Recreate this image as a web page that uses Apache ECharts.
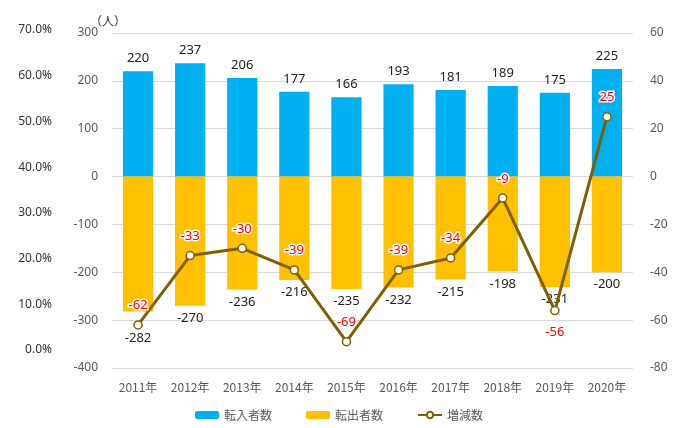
<!DOCTYPE html>
<html>
<head>
<meta charset="utf-8">
<script src="https://cdn.jsdelivr.net/npm/echarts@6/dist/echarts.min.js"></script>
<style>
html, body { margin: 0; padding: 0; background: #fff; }
#chart { width: 700px; height: 428px; }
</style>
</head>
<body>
<div id="chart"></div>
<script>
// data
const years = ["2011年", "2012年", "2013年", "2014年", "2015年", "2016年", "2017年", "2018年", "2019年", "2020年"];
const inflow = [220, 237, 206, 177, 166, 193, 181, 189, 175, 225];
const outflow = [-282, -270, -236, -216, -235, -232, -215, -198, -231, -200];
const change = [-62, -33, -30, -39, -69, -39, -34, -9, -56, 25];

const fontJP = '"Noto Sans CJK JP", "Noto Sans", sans-serif';
const fontNum = '"Noto Sans", "Liberation Sans", sans-serif';

const myChart = echarts.init(document.getElementById("chart"));

const option = {
  animation: false,
  textStyle: { fontFamily: fontJP },
  legend: {
    bottom: 2,
    left: 190,
    itemWidth: 24,
    itemHeight: 8,
    itemGap: 34,
    textStyle: { fontFamily: fontJP, fontSize: 12, color: "#595959" },
    data: ["転入者数", "転出者数", "増減数"],
  },
  grid: [
    { left: 112, right: 67, top: 33, bottom: 60 },
    // the stray percent axis at the far left
    { left: 56, width: 10, top: 30, bottom: 78 },
  ],
  xAxis: [
    {
      type: "category",
      gridIndex: 0,
      data: years,
      axisLine: { show: false },
      axisTick: { show: false },
      axisLabel: { color: "#595959", fontSize: 12, margin: 13, fontFamily: fontJP },
    },
    { type: "category", gridIndex: 1, show: false, data: [""] },
  ],
  yAxis: [
    {
      type: "value",
      gridIndex: 0,
      min: -400,
      max: 300,
      interval: 100,
      name: "（人）",
      nameGap: 4,
      nameTextStyle: { color: "#333", fontSize: 12, align: "right", padding: [0, -14, 0, 0] },
      axisLine: { show: false },
      axisTick: { show: false },
      splitLine: { lineStyle: { color: "#d9d9d9", width: 1 } },
      axisLabel: { color: "#595959", fontSize: 12, margin: 14, fontFamily: fontNum },
    },
    {
      type: "value",
      gridIndex: 0,
      position: "right",
      min: -80,
      max: 60,
      interval: 20,
      axisLine: { show: false },
      axisTick: { show: false },
      splitLine: { show: false },
      axisLabel: { color: "#595959", fontSize: 12, margin: 17, fontFamily: fontNum },
    },
    {
      type: "value",
      gridIndex: 1,
      min: 0,
      max: 0.7,
      interval: 0.1,
      axisLine: { show: false },
      axisTick: { show: false },
      splitLine: { show: false },
      axisLabel: {
        color: "#333",
        fontSize: 12,
        margin: 4,
        fontFamily: fontNum,
        formatter: (v) => (v * 100).toFixed(1) + "%",
      },
    },
  ],
  series: [
    {
      name: "転入者数",
      type: "bar",
      xAxisIndex: 0,
      yAxisIndex: 0,
      stack: "flow",
      barWidth: "58%",
      color: "#00B0F0",
      label: {
        show: true,
        position: "top",
        distance: 6,
        color: "#222",
        fontSize: 13,
        fontFamily: fontNum,
      },
      data: inflow,
    },
    {
      name: "転出者数",
      type: "bar",
      xAxisIndex: 0,
      yAxisIndex: 0,
      stack: "flow",
      barWidth: "58%",
      color: "#FFC000",
      label: {
        show: true,
        position: "bottom",
        distance: 6,
        color: "#222",
        fontSize: 13,
        fontFamily: fontNum,
      },
      data: outflow.map((v, i) =>
        i === 0 ? { value: v, label: { distance: 20 } } : v
      ),
    },
    {
      name: "増減数",
      type: "line",
      xAxisIndex: 0,
      yAxisIndex: 1,
      color: "#7F6000",
      lineStyle: { width: 3, color: "#7F6000" },
      symbol: "circle",
      symbolSize: 8,
      itemStyle: { color: "#fff", borderColor: "#7F6000", borderWidth: 1.5 },
      label: {
        show: true,
        position: "top",
        distance: 8,
        color: "#FF0000",
        fontSize: 13,
        fontFamily: fontNum,
        textBorderColor: "#fff",
        textBorderWidth: 3,
      },
      data: change.map((v, i) =>
        i === 8 ? { value: v, label: { position: "bottom", distance: 10 } } : v
      ),
      z: 5,
    },
  ],
};

myChart.setOption(option);
</script>
</body>
</html>
